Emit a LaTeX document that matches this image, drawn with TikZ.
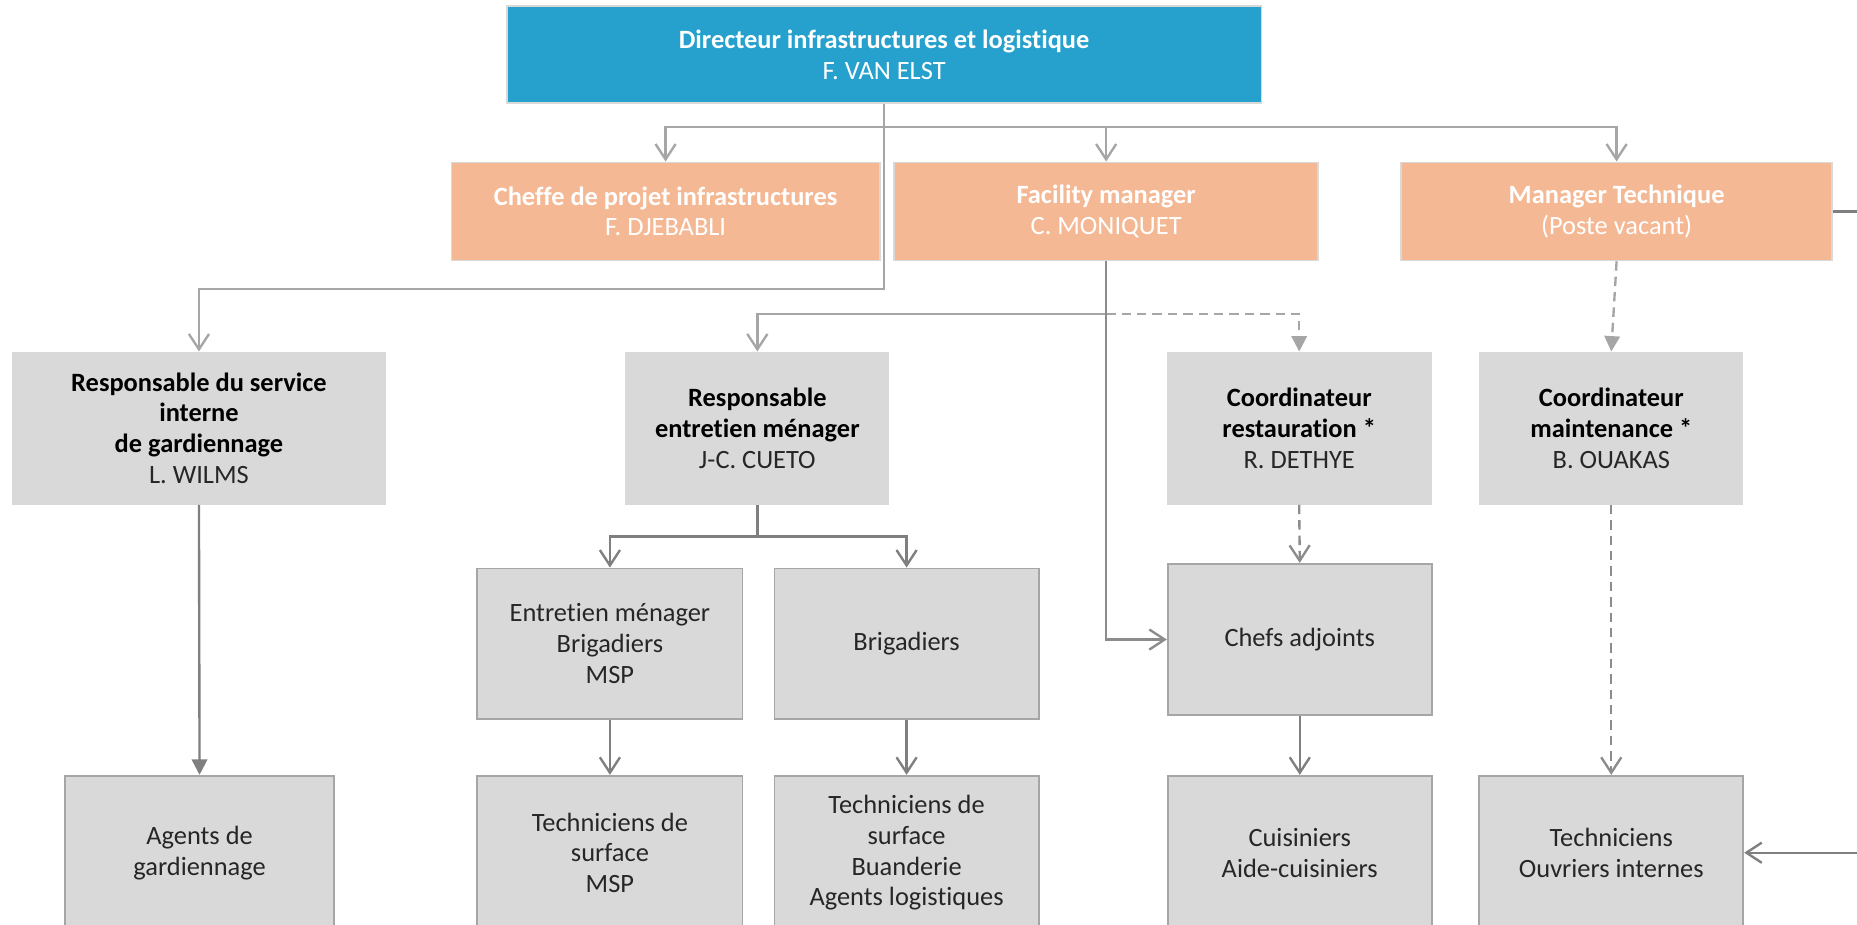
\documentclass[tikz,border=0pt]{standalone}
\usepackage{fontspec}
\setmainfont{Carlito}[Ligatures=NoCommon]
\usetikzlibrary{arrows.meta}
\definecolor{dirblue}{HTML}{26A1CD}
\definecolor{mgrorange}{HTML}{F4B894}
\definecolor{boxgray}{HTML}{D9D9D9}
\definecolor{edgegray}{HTML}{A6A6A6}
\definecolor{linelight}{HTML}{A6A6A6}
\definecolor{linemid}{HTML}{8C8C8C}
\definecolor{linedark}{HTML}{7F7F7F}
\definecolor{txtdark}{HTML}{262626}
\tikzset{
  box/.style={rectangle, inner sep=0pt, align=center, font=\fontsize{22.3}{26}\selectfont},
  dirbox/.style={box, fill=dirblue, draw=boxgray, line width=1.2pt, text=white},
  mgrbox/.style={box, fill=mgrorange, draw=boxgray, line width=1.2pt, text=white},
  lvlbox/.style={box, fill=boxgray, text=black},
  unitbox/.style={box, fill=boxgray, draw=edgegray, line width=1.5pt, text=txtdark},
  lightline/.style={draw=linelight, line width=2pt},
  midline/.style={draw=linemid, line width=2pt},
  darkline/.style={draw=linedark, line width=2pt},
  openarr/.style={-{Straight Barb[length=13pt,width=17pt]}},
  fillarr/.style={-{Triangle[length=13pt,width=13pt]}},
  dashline/.style={dash pattern=on 8pt off 5pt},
}
\begin{document}
\begin{tikzpicture}[x=1pt,y=-1pt]
\useasboundingbox (0,0) rectangle (1568,781);
\clip (0,0) rectangle (1568,781);
% level 0
\node[dirbox, minimum width=637pt, minimum height=82pt] (dir) at (746.5,46)
  {\textbf{Directeur infrastructures et logistique}\\F. VAN ELST};
% level 1
\node[mgrbox, minimum width=362pt, minimum height=83pt] (cheffe) at (562,178.5)
  {\textbf{Cheffe de projet infrastructures}\\F. DJEBABLI};
\node[mgrbox, minimum width=358pt, minimum height=83pt] (fac) at (934,178.5)
  {\textbf{Facility manager}\\C. MONIQUET};
\node[mgrbox, minimum width=364pt, minimum height=83pt] (mt) at (1365,178.5)
  {\textbf{Manager Technique}\\(Poste vacant)};
% level 2
\node[lvlbox, minimum width=316pt, minimum height=129pt] (gard) at (168,361.5)
  {\textbf{Responsable du service}\\\textbf{interne}\\\textbf{de gardiennage}\\{\color{txtdark}L. WILMS}};
\node[lvlbox, minimum width=223pt, minimum height=129pt] (entr) at (639.5,361.5)
  {\textbf{Responsable}\\\textbf{entretien ménager}\\{\color{txtdark}J-C. CUETO}};
\node[lvlbox, minimum width=224pt, minimum height=129pt] (rest) at (1097,361.5)
  {\textbf{Coordinateur}\\\textbf{restauration *}\\{\color{txtdark}R. DETHYE}};
\node[lvlbox, minimum width=223pt, minimum height=129pt] (maint) at (1360.5,361.5)
  {\textbf{Coordinateur}\\\textbf{maintenance *}\\{\color{txtdark}B. OUAKAS}};
% level 3
\node[unitbox, minimum width=224pt, minimum height=127pt] (em) at (515,543.5)
  {Entretien ménager\\Brigadiers\\MSP};
\node[unitbox, minimum width=223pt, minimum height=127pt] (brig) at (765.5,543.5)
  {Brigadiers};
\node[unitbox, minimum width=223pt, minimum height=128pt] (chefs) at (1097.5,540)
  {Chefs adjoints};
% level 4
\node[unitbox, minimum width=227pt, minimum height=130pt] (agents) at (168.5,720)
  {Agents de\\gardiennage};
\node[unitbox, minimum width=224pt, minimum height=130pt] (tsm) at (515,720)
  {Techniciens de\\surface\\MSP};
\node[unitbox, minimum width=223pt, minimum height=130pt] (tsb) at (765.5,720)
  {Techniciens de\\surface\\Buanderie\\Agents logistiques};
\node[unitbox, minimum width=223pt, minimum height=130pt] (cuis) at (1097.5,720)
  {Cuisiniers\\Aide-cuisiniers};
\node[unitbox, minimum width=223pt, minimum height=130pt] (tech) at (1360.5,720)
  {Techniciens\\Ouvriers internes};
% connectors
\coordinate (j1) at (746.5,107);
\coordinate (j2) at (746.5,244);
\coordinate (j3) at (934,265);
\coordinate (j4) at (639.5,453);
\draw[lightline] (dir.south) -- (j1);
\draw[lightline, openarr] (j1) -| (cheffe.north);
\draw[lightline, openarr] (j1) -| (fac.north);
\draw[lightline, openarr] (j1) -| (mt.north);
\draw[lightline, openarr] (j1) -- (j2) -| (gard.north);
\draw[lightline, openarr] (fac.south) -- (j3) -| (entr.north);
\draw[lightline, dashline, fillarr] (j3) -| (rest.north);
\draw[midline, openarr] (fac.south) |- (chefs.west);
\draw[lightline, dashline, fillarr] (mt.south) -- (maint.north);
\draw[darkline, fillarr] (gard.south) -- (agents.north);
\draw[darkline] (entr.south) -- (j4);
\draw[darkline, openarr] (j4) -| (em.north);
\draw[darkline, openarr] (j4) -| (brig.north);
\draw[darkline, openarr] (em.south) -- (tsm.north);
\draw[darkline, openarr] (brig.south) -- (tsb.north);
\draw[midline, dashline, openarr] (rest.south) -- (chefs.north);
\draw[darkline, openarr] (chefs.south) -- (cuis.north);
\draw[midline, dashline, openarr] (maint.south) -- (tech.north);
\draw[darkline, openarr] (mt.east) -- ++(60,0) |- (tech.east);
\end{tikzpicture}
\end{document}
